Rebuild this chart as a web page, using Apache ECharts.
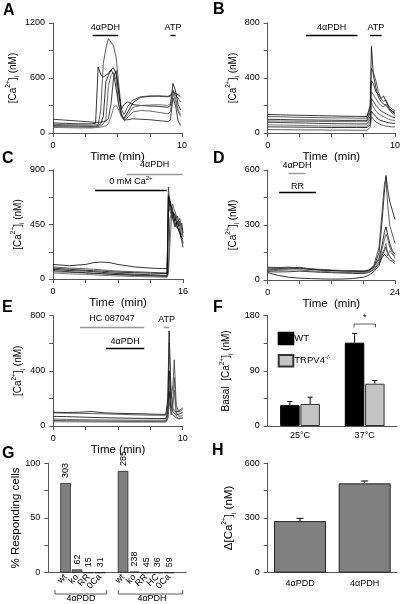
<!DOCTYPE html>
<html><head><meta charset="utf-8">
<script src="https://cdn.jsdelivr.net/npm/echarts/dist/echarts.min.js"></script>
<style>html,body{margin:0;padding:0;background:#fff}#c{width:403px;height:604px}</style>
</head><body><div id="c"></div><script>
// ---------- DATA ----------
// Panel A
const timeA = [0,1,2,3,3.3,3.5,3.7,3.9,4.1,4.3,4.5,4.7,4.9,5.1,5.3,5.5,5.8,6.2,6.8,7.5,8.2,8.9,9.1,9.3,9.5,9.7,9.9];
const tracesA = [
 [110,105,100,100,105,720,640,610,630,650,690,640,480,300,200,160,230,330,390,400,405,400,410,440,430,420,390],
 [95,90,88,85,88,90,250,760,920,1030,990,950,820,520,260,200,290,360,395,405,400,395,400,460,410,380,340],
 [80,78,75,72,75,80,100,180,560,630,690,710,640,420,260,310,340,310,300,295,290,280,300,540,460,310,250],
 [70,68,65,62,65,70,80,100,150,520,630,660,570,310,180,140,170,230,245,240,225,210,230,430,350,230,180],
 [150,140,130,120,115,115,120,125,130,160,320,610,680,460,210,140,145,155,150,145,135,125,140,380,300,130,80],
 [60,58,55,55,58,60,65,70,80,100,180,280,300,250,180,150,200,280,300,305,310,300,320,470,380,260,200]
];
const stimA = [['4αPDH',3.07,5.06],['ATP',9.1,9.5]];
// Panel B
const timeB = [0,1,2,3,4,5,6,7,7.8,8.05,8.15,8.3,8.5,8.7,8.9,9.1,9.3,9.5,9.7,10];
const tracesB = [
 [135,132,130,128,126,124,122,121,120,200,630,420,330,260,230,210,200,180,165,150],
 [120,118,115,113,112,110,110,108,108,180,470,440,380,300,250,230,240,200,180,160],
 [100,98,96,95,94,93,92,92,92,150,380,360,300,280,250,270,230,190,160,140],
 [88,87,86,85,84,83,83,82,82,120,300,290,250,220,200,190,210,170,150,130],
 [78,76,74,72,70,68,67,66,66,100,250,230,200,180,160,150,140,130,120,110],
 [60,58,56,54,52,51,50,50,50,80,220,190,160,140,130,120,110,100,95,90],
 [45,44,43,42,41,40,40,40,40,60,160,140,120,100,90,85,80,75,72,70],
 [25,24,23,22,22,21,21,20,20,40,120,100,80,70,60,55,50,48,45,45]
];
const stimB = [['4αPDH',3.0,7.05],['ATP',8.05,8.95]];
// Panel C
const timeC = [0,2,4,5,6,7,8,10,12,14.05,14.2,14.4,14.7,15,15.3,15.6,15.85,16];
const tracesC = [
 [120,110,120,135,140,135,120,100,90,85,700,650,560,480,520,440,460,380],
 [100,90,85,80,75,70,65,60,55,50,760,600,500,540,450,500,420,350],
 [80,70,65,60,55,50,45,40,35,30,680,620,580,470,430,380,330,300],
 [60,55,50,45,42,40,38,35,30,28,600,560,500,450,420,480,400,380],
 [70,60,52,48,44,40,35,30,25,20,80,500,560,520,430,380,320,260],
 [50,42,38,35,30,28,25,20,18,15,40,300,620,560,500,440,360,290],
 [90,80,72,68,65,60,56,52,48,45,550,640,520,430,480,400,340,330]
];
const stimC = [['4αPDH',9.07,15.96],['0 mM Ca{sup|2+}',5.17,14.0]];
// Panel D
const timeD = [0,2,4,6,8,10,12,14,16,18,19,20,21,21.5,22,22.3,22.6,23,23.5,24];
const tracesD = [
 [60,62,65,62,58,55,52,50,48,48,50,70,150,300,480,570,500,430,380,330],
 [55,58,60,70,60,55,52,50,48,45,50,80,180,350,520,560,420,300,250,200],
 [70,68,70,65,60,55,52,50,50,48,52,70,120,180,260,290,250,200,160,140],
 [50,52,55,55,50,48,45,42,40,40,45,60,100,160,220,250,230,180,150,120],
 [45,44,45,48,45,42,40,38,36,35,40,55,90,130,160,180,150,130,110,100],
 [65,66,68,65,62,58,55,52,50,50,55,75,110,140,170,200,130,160,140,130],
 [40,25,15,10,8,6,5,5,8,15,25,45,80,120,140,150,120,110,100,90]
];
const stimD = [['4αPDH',3.95,7.1],['RR',2.15,9.1],['4αPDH',19.1,22.6]];
// Panel E
const timeE = [0,1,2,3,4,5,6,7,8,8.7,8.85,8.95,9.1,9.25,9.35,9.5,9.7,10];
const tracesE = [
 [100,98,100,105,95,92,90,88,85,85,200,690,250,120,110,100,110,130],
 [95,93,92,90,88,85,82,80,78,78,150,600,200,300,480,150,100,120],
 [70,68,65,62,60,58,56,55,54,54,100,400,150,100,90,80,85,100],
 [50,48,46,45,44,43,42,42,42,42,80,300,120,200,350,100,70,75],
 [40,38,37,36,35,35,34,34,34,34,60,250,100,80,70,60,55,60],
 [30,30,30,29,29,28,28,28,28,28,50,180,80,150,260,70,50,55]
];
const stimE = [['HC 087047',2.06,7.03],['4αPDH',4.07,7.03],['ATP',8.55,8.97]];
// Panel F
const fCats = ['25°C','37°C'];
const fWT = [34,136];
const fWTerr = [6,15];
const fKO = [36,69];
const fKOerr = [11,5];
// Panel G
const gCats = ['','wt','ko','RR','0Ca','','wt','ko','RR','HC','0Ca',''];
const gValues = [null,82,3,0,0,null,93,1,0,0,0,null];
const gCounts = ['','303','62','15','31','','285','238','45','36','59',''];
// Panel H
const hCats = ['4αPDD','4αPDH'];
const hValues = [283,490];
const hErr = [15,13];

// ---------- LAYOUT / STYLE ----------
const F = 'Liberation Sans, Arial, Helvetica, sans-serif';
const AX = '#555';
const grids = [
 {left:53, top:23, width:129, height:110},
 {left:267.7, top:23, width:129.3, height:110},
 {left:53, top:170, width:130, height:109},
 {left:267.7, top:170, width:129.3, height:110},
 {left:53.3, top:315.7, width:129.4, height:110.3},
 {left:267.7, top:315.7, width:129.3, height:110.3},
 {left:48.3, top:463.3, width:138, height:109.4},
 {left:267.7, top:463.3, width:129.3, height:109.4}
];
const supRich = {
 b:{fontSize:10, fontFamily:F, color:'#000', lineHeight:16},
 bb:{fontSize:11.5, fontFamily:F, color:'#000', lineHeight:17},
 sup:{fontSize:6.5, fontFamily:F, color:'#000', verticalAlign:'top', lineHeight:16},
 sub:{fontSize:6.5, fontFamily:F, color:'#000', verticalAlign:'bottom', lineHeight:16}
};
const caName = '{b|[Ca}{sup|2+}{b|]}{sub|i}{b| (nM)}';

function timeAxis(gi, max, interval, nameGap, name){
 return {type:'value', gridIndex:gi, min:0, max:max, interval:interval,
  name:name, nameLocation:'middle', nameGap:nameGap,
  nameTextStyle:{fontSize:11.5, fontFamily:F, color:'#000'},
  axisLine:{show:true, onZero:false, lineStyle:{color:AX, width:1}},
  axisTick:{show:true, length:4, lineStyle:{color:AX}},
  axisLabel:{fontSize:9, fontFamily:F, color:'#000', margin:8,
   formatter:v => (v===0||v===max) ? String(v) : ''},
  splitLine:{show:false}};
}
function yAxisV(gi, max, interval, every, nameGap, name, rich){
 return {type:'value', gridIndex:gi, min:0, max:max, interval:interval,
  name:name, nameLocation:'middle', nameGap:nameGap, nameRotate:90,
  nameTextStyle:{fontSize:10, fontFamily:F, color:'#000', rich:rich||supRich},
  axisLine:{show:true, lineStyle:{color:AX, width:1}},
  axisTick:{show:true, length:4, lineStyle:{color:AX}},
  axisLabel:{fontSize:9, fontFamily:F, color:'#000', margin:8,
   formatter:v => (Math.abs(v % every) < 1e-6) ? String(v) : ''},
  splitLine:{show:false}};
}
function catAxis(gi, data, extra){
 return Object.assign({type:'category', gridIndex:gi, data:data,
  axisLine:{show:true, lineStyle:{color:AX, width:1}},
  axisTick:{show:false},
  axisLabel:{fontSize:9, fontFamily:F, color:'#000', margin:5, interval:0},
  splitLine:{show:false}}, extra||{});
}

const xAxis = [
 timeAxis(0,10,2.5,7,'Time (min)'),
 timeAxis(1,10,2.5,8,'Time  (min)'),
 timeAxis(2,16,4,6,'Time  (min)'),
 timeAxis(3,24,6,5,'Time  (min)'),
 timeAxis(4,10,2.5,6,'Time (min)'),
 catAxis(5, fCats, {axisLabel:{fontSize:9, fontFamily:F, color:'#000', margin:5}}),
 catAxis(6, gCats, {axisLabel:{fontSize:9, fontFamily:F, color:'#000', margin:3, rotate:45, interval:0}}),
 catAxis(7, hCats, {axisLabel:{fontSize:9, fontFamily:F, color:'#000', margin:6}})
];
const yAxis = [
 yAxisV(0,1200,300,600,27,caName),
 yAxisV(1,800,200,400,23,caName),
 yAxisV(2,900,225,450,27,caName),
 yAxisV(3,600,150,300,23,caName),
 yAxisV(4,800,200,400,27,caName),
 yAxisV(5,180,45,90,33,'{b|Basal  [Ca}{sup|2+}{b|]}{sub|i}{b| (nM)}'),
 yAxisV(6,100,25,50,20,'{bb|% Responding cells}'),
 yAxisV(7,600,150,300,30,'{bb|Δ[Ca}{sup|2+}{bb|]}{sub|i}{bb| (nM)}')
];

const series = [];
const traceCols = ['#000','#333','#000','#444','#111','#555','#000','#333'];
function addPanel(gi, time, traces, stims, levels, colors, dists){
 traces.forEach((tr, k) => {
  const s = {type:'line', xAxisIndex:gi, yAxisIndex:gi, symbol:'none', silent:true, animation:false,
   lineStyle:{color:traceCols[k % traceCols.length], width:0.8},
   data: time.map((t,i) => [t, tr[i]])};
  if (k === 0){
   s.markLine = {silent:true, symbol:['none','none'], animation:false,
    data: stims.map((st, j) => [
     {coord:[st[1], levels[j]], lineStyle:{color:colors[j], width:1.4, type:'solid'},
      label:{show:true, position:'middle', formatter:st[0], distance:dists[j],
       fontSize:9, fontFamily:F, color:'#000',
       rich:{sup:{fontSize:6, fontFamily:F, color:'#000', verticalAlign:'top', lineHeight:13}}}},
     {coord:[st[2], levels[j]]}
    ])};
  }
  series.push(s);
 });
}
addPanel(0, timeA, tracesA, stimA, [1069,1069], ['#000','#000'], [2.5,2.5]);
addPanel(1, timeB, tracesB, stimB, [713,713], ['#000','#000'], [2.5,2.5]);
addPanel(2, timeC, tracesC, stimC, [867,735], ['#999','#000'], [5,1.5]);
addPanel(3, timeD, tracesD, stimD, [581,478], ['#999','#000','#999'], [3,1,3]);
addPanel(4, timeE, tracesE, stimE, [716,563.5,716], ['#999','#000','#999'], [4.5,2,3.5]);

// F bars
series.push({type:'bar', name:'WT', xAxisIndex:5, yAxisIndex:5, data:fWT, barWidth:19.5, barGap:'4%',
 itemStyle:{color:'#000', borderColor:'#000', borderWidth:1}, animation:false, silent:true});
series.push({type:'bar', name:'TRPV4', xAxisIndex:5, yAxisIndex:5, data:fKO, barWidth:19.5, barGap:'4%',
 itemStyle:{color:'#c4c4c4', borderColor:'#333', borderWidth:1}, animation:false, silent:true});
function errSeries(gi, vals, errs, off, cap){
 return {type:'custom', xAxisIndex:gi, yAxisIndex:gi, silent:true, animation:false, z:1,
  data: vals.map((v,i) => [i, v, errs[i]]),
  renderItem:(params, api) => {
   const i = api.value(0), v = api.value(1), e = api.value(2);
   const b = api.coord([i, v]); const t = api.coord([i, v + e]);
   const x = b[0] + off;
   return {type:'group', children:[
    {type:'line', shape:{x1:x, y1:b[1], x2:x, y2:t[1]}, style:{stroke:'#000', lineWidth:1}},
    {type:'line', shape:{x1:x-cap, y1:t[1], x2:x+cap, y2:t[1]}, style:{stroke:'#000', lineWidth:1}}
   ]};
  }};
}
series.push(errSeries(5, fWT, fWTerr, -10.1, 2.5));
series.push(errSeries(5, fKO, fKOerr, 10.1, 2.5));

// G bars
series.push({type:'bar', xAxisIndex:6, yAxisIndex:6, data:gValues, barWidth:10.5, animation:false, silent:true,
 itemStyle:{color:'#808080', borderColor:'#222', borderWidth:0.8},
 label:{show:true, position:'top', rotate:90, align:'left', verticalAlign:'middle', distance:5,
  fontSize:9, fontFamily:F, color:'#000', formatter:p => gCounts[p.dataIndex]}});

// H bars
series.push({type:'bar', xAxisIndex:7, yAxisIndex:7, data:hValues, barWidth:52, animation:false, silent:true,
 itemStyle:{color:'#808080', borderColor:'#222', borderWidth:1}});
series.push(errSeries(7, hValues, hErr, 0, 3.5));

function letter(t, x, y){ return {type:'text', left:x, top:y, style:{text:t, fontSize:16, fontWeight:'bold', fontFamily:F, fill:'#000'}}; }
const graphic = [
 letter('A',3,3), letter('B',213,2), letter('C',2,151), letter('D',213,151),
 letter('E',2,300), letter('F',213,300), letter('G',2,446), letter('H',212,443),
 {type:'polyline', shape:{points:[[354,327.5],[354,324],[375.5,324],[375.5,327.5]]}, style:{stroke:'#333', fill:null, lineWidth:0.8}},
 {type:'text', x:364.7, y:322, style:{text:'*', fontSize:9, fontFamily:F, fill:'#000', align:'center', verticalAlign:'bottom'}},
 {type:'polyline', shape:{points:[[55,590],[55,594],[106.7,594],[106.7,590]]}, style:{stroke:'#333', fill:null, lineWidth:0.8}},
 {type:'polyline', shape:{points:[[118.3,590],[118.3,594],[182.7,594],[182.7,590]]}, style:{stroke:'#333', fill:null, lineWidth:0.8}},
 {type:'text', x:81, y:599, style:{text:'4αPDD', fontSize:9, fontFamily:F, fill:'#000', align:'center', verticalAlign:'middle'}},
 {type:'text', x:152, y:599, style:{text:'4αPDH', fontSize:9, fontFamily:F, fill:'#000', align:'center', verticalAlign:'middle'}}
];

const chart = echarts.init(document.getElementById('c'), null, {renderer:'canvas'});
chart.setOption({
 animation:false,
 textStyle:{fontFamily:F},
 grid:grids,
 xAxis:xAxis,
 yAxis:yAxis,
 legend:{data:['WT','TRPV4'], left:272.7, top:326.7, orient:'vertical', itemWidth:14.6, itemHeight:11.6, itemGap:8.7,
  icon:'rect', selectedMode:false,
  textStyle:{fontSize:9.5, fontFamily:F, color:'#000', padding:[0,0,0,-4],
   rich:{sup:{fontSize:6, fontFamily:F, color:'#000', verticalAlign:'top', lineHeight:12}}},
  formatter:n => n === 'TRPV4' ? 'TRPV4{sup|-/-}' : n},
 graphic:graphic,
 series:series
});
</script></body></html>
